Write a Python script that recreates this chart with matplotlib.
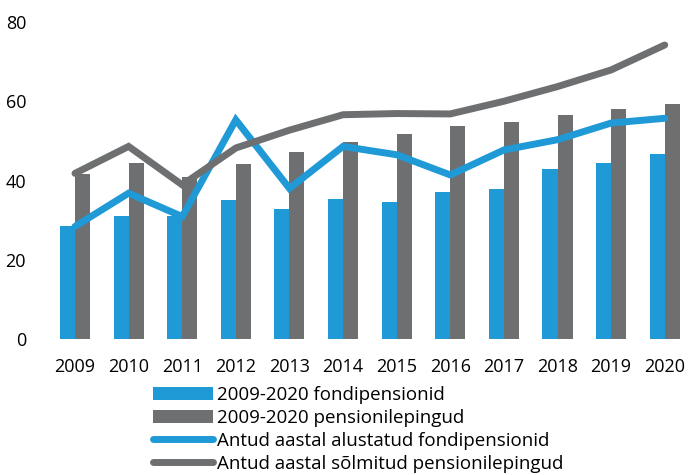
import numpy as np
import matplotlib.pyplot as plt

years = ['2009', '2010', '2011', '2012', '2013', '2014', '2015', '2016',
         '2017', '2018', '2019', '2020']
fond_total = [28.5, 31.1, 31.1, 35.2, 32.8, 35.4, 34.6, 37.1, 37.9, 42.9, 44.4, 46.6]
leping_total = [41.7, 44.5, 40.8, 44.1, 47.1, 49.6, 51.8, 53.8, 54.7, 56.5, 58.1, 59.3]
fond_year = [28.4, 36.8, 30.9, 55.3, 38.0, 48.6, 46.5, 41.4, 47.7, 50.3, 54.5, 55.7]
leping_year = [41.8, 48.6, 38.9, 48.2, 52.7, 56.6, 56.9, 56.8, 60.0, 63.7, 67.9, 74.2]

labels = ['2009-2020 fondipensionid', '2009-2020 pensionilepingud',
          'Antud aastal alustatud fondipensionid',
          'Antud aastal sõlmitud pensionilepingud']

blue = '#1f9ad6'
grey = '#6e6f71'

plt.rcParams['font.family'] = ['Open Sans', 'DejaVu Sans']

fig = plt.figure(figsize=(6.88, 4.75), dpi=100)
ax = fig.add_axes([45.5 / 688, 136 / 475, 638 / 688, 317 / 475])

x = np.arange(len(years))
w = 0.28
b1 = ax.bar(x - w / 2, fond_total, w, color=blue)
b2 = ax.bar(x + w / 2, leping_total, w, color=grey)
l1, = ax.plot(x, fond_year, color=blue, lw=5, solid_capstyle='round',
              solid_joinstyle='miter')
l2, = ax.plot(x, leping_year, color=grey, lw=5, solid_capstyle='round',
              solid_joinstyle='miter')

ax.set_xlim(-0.55, 11.35)
ax.set_ylim(0, 80)
ax.set_yticks([0, 20, 40, 60, 80])
ax.set_xticks(x)
ax.set_xticklabels(years)
for s in ax.spines.values():
    s.set_visible(False)
ax.tick_params(length=0, labelsize=13, colors='black')
ax.tick_params(axis='y', pad=14)
ax.tick_params(axis='x', pad=14)

fig.legend([b1, b2, l1, l2], labels, loc='upper left',
           bbox_to_anchor=(153 / 688, 1 - 386 / 475),
           frameon=False, fontsize=13.5, handlelength=3.2, handletextpad=0.2,
           labelspacing=0.26, borderpad=0, borderaxespad=0)

fig.savefig('out.png', dpi=100)
